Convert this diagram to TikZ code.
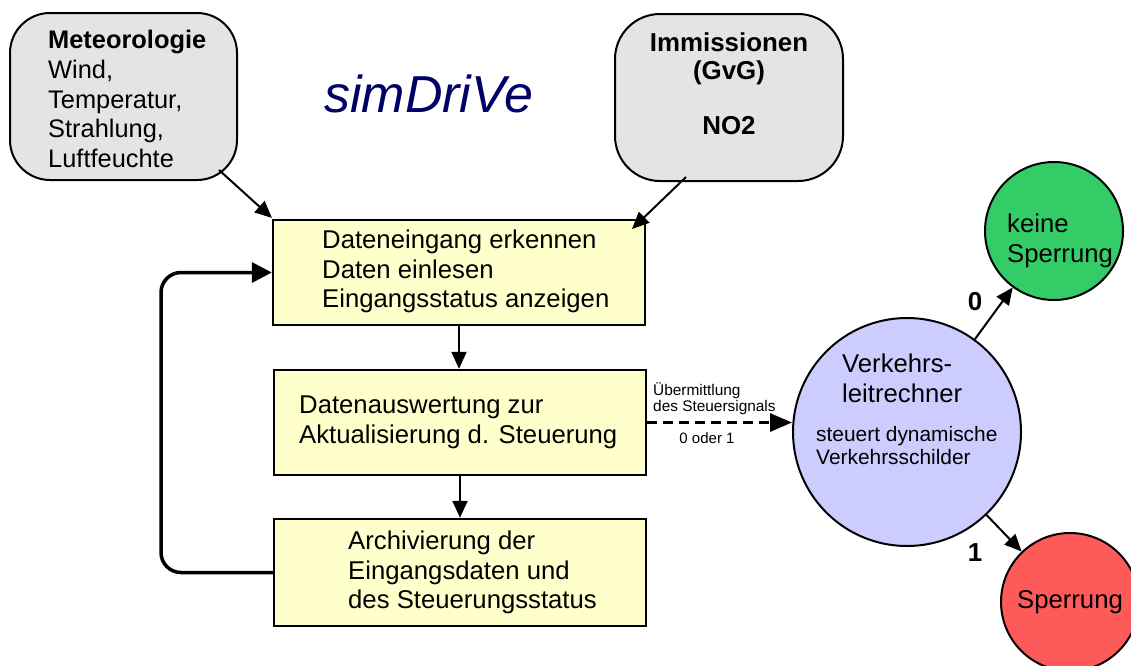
\documentclass[tikz,border=0pt]{standalone}
\usepackage{fontspec}
\setmainfont{Liberation Sans}
\usetikzlibrary{arrows.meta}
\definecolor{gfill}{HTML}{E4E4E4}
\definecolor{yfill}{HTML}{FFFFCC}
\definecolor{vfill}{HTML}{CCCCFF}
\definecolor{grfill}{HTML}{33CC66}
\definecolor{rdfill}{HTML}{FF5A5A}
\definecolor{navyt}{HTML}{000066}
\tikzset{
  gbox/.style={draw, line width=2pt, fill=gfill, inner sep=0pt},
  ybox/.style={draw, line width=2.4pt, fill=yfill, inner sep=0pt, minimum width=372pt, minimum height=105pt},
  circ/.style={draw, line width=2pt, circle, inner sep=0pt},
  txt/.style={inner sep=0pt, align=left, font={\fontsize{25.7}{29.3}\selectfont}},
  ctxt/.style={inner sep=0pt, align=center, font={\fontsize{25.9}{28}\selectfont\bfseries}},
  smalltxt/.style={inner sep=0pt, align=left, font={\fontsize{15.4}{16.5}\selectfont}},
  arr/.style={line width=2pt, -{Triangle[length=17pt,width=15pt]}},
}
\begin{document}
\begin{tikzpicture}[x=1pt,y=-1pt]
\useasboundingbox (0,0) rectangle (1131,665);
\clip (0,0) rectangle (1131,665);
\fill[white] (0,0) rectangle (1131,665);

% source boxes
\node[gbox, rounded corners=40pt, minimum width=227pt, minimum height=167pt] (met) at (123.5,96.5) {};
\node[txt, anchor=north west, font={\fontsize{25.4}{29.7}\selectfont}] (mettxt) at (48,30) {\textbf{Meteorologie}\\Wind,\\Temperatur,\\Strahlung,\\Luftfeuchte};

\node[gbox, rounded corners=45pt, minimum width=228pt, minimum height=167pt] (imm) at (729,97.5) {};
\node[ctxt, anchor=north] (immtxt) at (729,33) {Immissionen\\(GvG)\\[27pt]NO2};

% title
\node[inner sep=0pt, anchor=base west, text=navyt, font={\fontsize{52}{56}\selectfont\itshape}] (title) at (324,112) {simDriVe};

% process boxes
\node[ybox] (box1) at (459,272.5) {};
\node[txt, anchor=north west] (t1) at (322,230) {Dateneingang erkennen\\Daten einlesen\\Eingangsstatus anzeigen};

\node[ybox] (box2) at (460,422.5) {};
\node[txt, anchor=north west] (t2) at (299,396) {Datenauswertung zur\\Aktualisierung d. Steuerung};

\node[ybox, minimum height=107pt] (box3) at (460,572.5) {};
\node[txt, anchor=north west] (t3) at (348,531) {Archivierung der\\Eingangsdaten und\\des Steuerungsstatus};

% circles
\node[circ, fill=vfill, minimum size=228pt] (vlr) at (907,432) {};
\node[txt, anchor=north west] (vt1) at (842,354) {Verkehrs-\\leitrechner};
\node[inner sep=0pt, align=left, anchor=north west, font={\fontsize{20.9}{23.5}\selectfont}] (vt2) at (816,426) {steuert dynamische\\Verkehrsschilder};

\node[circ, fill=grfill, minimum size=138pt] (green) at (1054,231) {};
\node[txt, anchor=north west] (gt) at (1007,214) {keine\\Sperrung};

\node[circ, fill=rdfill, minimum size=138pt] (red) at (1070,602) {};
\node[inner sep=0pt, anchor=base, font={\fontsize{25.7}{29}\selectfont}] (rt) at (1070,608) {Sperrung};

% connectors
\coordinate (metout) at (219,170);
\coordinate (box1nw) at (272,218);
\draw[arr] (metout) -- (box1nw);
\coordinate (immout) at (686,177);
\coordinate (box1ne) at (632,229);
\draw[arr] (immout) -- (box1ne);

\draw[arr] (box1.south) -- (box1.south |- box2.north);
\draw[arr] (box2.south) -- (box2.south |- box3.north);

\coordinate (loopx) at (161,0);
\draw[line width=3.5pt, rounded corners=20pt, -{Triangle[length=20pt,width=20pt]}]
  (box3.west) -- (box3.west -| loopx) -- (box1.west -| loopx) -- (box1.west);

\draw[line width=3pt, dash pattern=on 10pt off 6pt, -{Triangle[length=22pt,width=18pt]}]
  (box2.east) -- (box2.east -| vlr.west);
\node[smalltxt, anchor=north west] (lab1) at (653,382) {Übermittlung\\des Steuersignals};
\node[inner sep=0pt, anchor=base, font={\fontsize{15}{16}\selectfont}] (lab2) at (707,443) {0 oder 1};

\draw[arr] (vlr) -- (green);
\draw[arr] (vlr) -- (red);
\node[inner sep=0pt, font={\fontsize{26}{28}\selectfont\bfseries}] (l0) at (975,302) {0};
\node[inner sep=0pt, font={\fontsize{26}{28}\selectfont\bfseries}] (l1) at (975,553) {1};
\end{tikzpicture}
\end{document}
